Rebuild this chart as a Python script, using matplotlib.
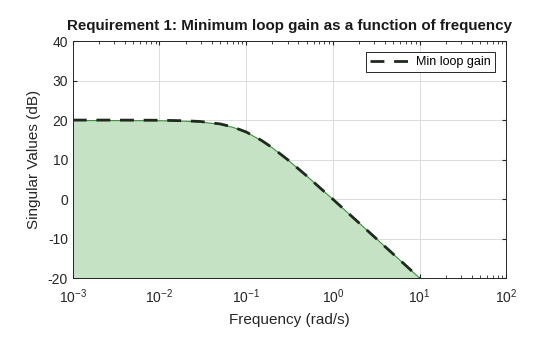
import matplotlib
matplotlib.use("Agg")
import matplotlib.pyplot as plt
from matplotlib.ticker import LogLocator, NullFormatter

plt.rcParams['font.family'] = ['Liberation Sans', 'DejaVu Sans']
plt.rcParams['axes.unicode_minus'] = False

# min loop gain (rad/s, dB)
freq = [0.001, 0.003, 0.01, 0.02, 0.03, 0.05, 0.07, 0.1, 0.15, 0.2,
        0.3, 0.5, 0.7, 1.0, 1.5, 2.0, 3.0, 5.0, 7.0, 10.0]
gain_db = [20.0, 20.0, 19.96, 19.83, 19.63, 19.03, 18.26, 16.99, 14.86, 13.01,
           10.0, 5.85, 2.97, -0.04, -3.55, -6.03, -9.55, -13.98, -16.9, -20.0]

fig, ax = plt.subplots(figsize=(5.6, 3.37), dpi=100)
fig.subplots_adjust(left=0.130, right=0.904, top=0.878, bottom=0.175)

ax.fill_between(freq, gain_db, -20, color='#c5e3c4', edgecolor='#3f8f3f',
                linewidth=0.8, zorder=2)
ax.plot(freq, gain_db, color='#1f2a1f', linestyle=(0, (5, 3.5)), linewidth=2,
        label='Min loop gain', zorder=3)

ax.set_xscale('log')
ax.set_xlim(1e-3, 1e2)
ax.set_ylim(-20, 40)
ax.set_yticks(range(-20, 41, 10))
ax.xaxis.set_major_locator(LogLocator(base=10, numticks=10))
ax.xaxis.set_minor_locator(LogLocator(base=10, subs=range(2, 10), numticks=20))
ax.xaxis.set_minor_formatter(NullFormatter())

ax.grid(True, which='major', color='#dcdcdc', linewidth=0.7, zorder=0)
ax.set_axisbelow(True)
ax.tick_params(direction='in', which='both', top=True, right=True,
               labelsize=10, colors='#262626', length=3)
ax.tick_params(which='minor', length=2)
ax.tick_params(axis='x', which='major', pad=7)
for s in ax.spines.values():
    s.set_color('#262626')
    s.set_linewidth(0.7)

ax.set_xlabel('Frequency (rad/s)', fontsize=11, color='#262626', labelpad=5)
ax.set_ylabel('Singular Values (dB)', fontsize=11, color='#262626', labelpad=5)
ax.set_title('Requirement 1: Minimum loop gain as a function of frequency',
             fontsize=10.9, fontweight='bold', color='#1a1a1a', pad=8)

leg = ax.legend(loc='upper right', fontsize=9, fancybox=False, framealpha=1,
                edgecolor='#262626', handlelength=3.6, borderpad=0.3,
                handletextpad=0.1, borderaxespad=0.9)
leg.get_frame().set_linewidth(0.7)

fig.savefig('out.png', dpi=100)
